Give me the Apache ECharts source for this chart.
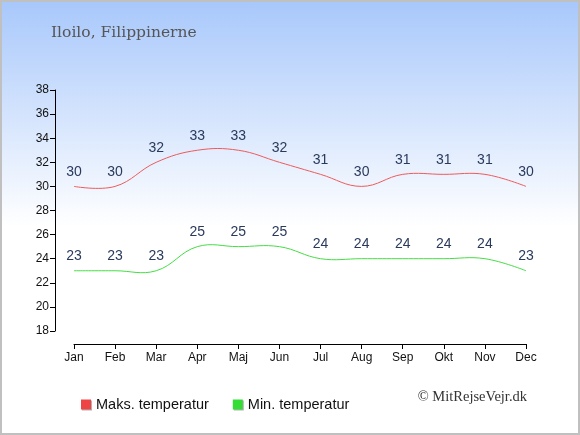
<!DOCTYPE html>
<html>
<head>
<meta charset="utf-8">
<script src="https://cdn.jsdelivr.net/npm/echarts@6/dist/echarts.min.js"></script>
<style>
  html, body { margin: 0; padding: 0; }
  #chart {
    width: 576px; height: 431px;
    border: 2px solid #c0c0c0;
    background: linear-gradient(to bottom, #a8c8fb 0%, #ffffff 52%, #ffffff 100%);
  }
</style>
</head>
<body>
<div id="chart"></div>
<script>
const months = ['Jan', 'Feb', 'Mar', 'Apr', 'Maj', 'Jun', 'Jul', 'Aug', 'Sep', 'Okt', 'Nov', 'Dec'];
const maxTemp = [30, 30, 32, 33, 33, 32, 31, 30, 31, 31, 31, 30];
const minTemp = [23, 23, 23, 25, 25, 25, 24, 24, 24, 24, 24, 23];
const yTicks = { min: 18, max: 38, step: 2 };

const chart = echarts.init(document.getElementById('chart'));

const labelStyle = {
    show: true,
    position: 'top',
    distance: 7,
    color: '#2a3a5c',
    fontSize: 14,
    fontFamily: 'Liberation Sans, Arial, sans-serif'
};

// spline curve drawn once through all points, coords come from the axes
function curveSeries(values, stroke) {
    return {
        type: 'custom',
        name: 'curve',
        silent: true,
        data: values.map((v, i) => [i, v]),
        encode: { x: 0, y: 1 },
        renderItem: (params, api) => {
            if (params.dataIndex !== 0) return null;
            const pts = values.map((v, i) => api.coord([i, v]));
            return {
                type: 'polyline',
                shape: { points: pts, smooth: 0.4 },
                style: { stroke: stroke, lineWidth: 1, fill: 'none' }
            };
        }
    };
}

// line series only carries the value labels and legend entry
function labelSeries(name, values) {
    return {
        name: name,
        type: 'line',
        data: values,
        symbol: 'circle',
        symbolSize: 1,
        itemStyle: { color: 'rgba(0,0,0,0)' },
        lineStyle: { opacity: 0 },
        label: labelStyle
    };
}

chart.setOption({
    backgroundColor: 'transparent',
    animation: false,
    grid: { left: 72, right: 52, top: 88, bottom: 102 },
    xAxis: {
        type: 'category',
        data: months,
        boundaryGap: false,
        offset: 13,
        axisLine: { lineStyle: { color: '#000', width: 1 } },
        axisTick: { show: true, length: 5, alignWithLabel: true, lineStyle: { color: '#000' } },
        axisLabel: { color: '#111', fontSize: 12, fontFamily: 'Liberation Sans, Arial, sans-serif', margin: 8 },
        splitLine: { show: false }
    },
    yAxis: {
        type: 'value',
        min: yTicks.min,
        max: yTicks.max,
        interval: yTicks.step,
        offset: 19,
        axisLine: { show: true, lineStyle: { color: '#000', width: 1 } },
        axisTick: { show: true, length: 5, lineStyle: { color: '#000' } },
        axisLabel: { color: '#111', fontSize: 12, fontFamily: 'Liberation Sans, Arial, sans-serif', margin: 6 },
        splitLine: { show: false }
    },
    legend: {
        left: 74,
        top: 390,
        itemGap: 24,
        itemWidth: 10,
        itemHeight: 10,
        icon: 'rect',
        textStyle: { color: '#111', fontSize: 14.5, fontFamily: 'Liberation Sans, Arial, sans-serif' },
        data: [
            { name: 'Maks. temperatur', itemStyle: { color: '#ee4444', shadowColor: 'rgba(0,0,0,0.3)', shadowOffsetX: 1, shadowOffsetY: 1 } },
            { name: 'Min. temperatur', itemStyle: { color: '#33dd33', shadowColor: 'rgba(0,0,0,0.3)', shadowOffsetX: 1, shadowOffsetY: 1 } }
        ]
    },
    graphic: [
        {
            type: 'text',
            left: 49,
            top: 23,
            style: { text: 'Iloilo, Filippinerne', fill: '#555', font: '15.5px "DejaVu Serif", serif' }
        },
        {
            type: 'text',
            right: 51,
            top: 388,
            style: { text: '© MitRejseVejr.dk', fill: '#333', font: '14.5px "Liberation Serif", serif' }
        }
    ],
    series: [
        curveSeries(maxTemp, '#ee5a5a'),
        curveSeries(minTemp, '#44dd44'),
        labelSeries('Maks. temperatur', maxTemp),
        labelSeries('Min. temperatur', minTemp)
    ]
});
</script>
</body>
</html>
